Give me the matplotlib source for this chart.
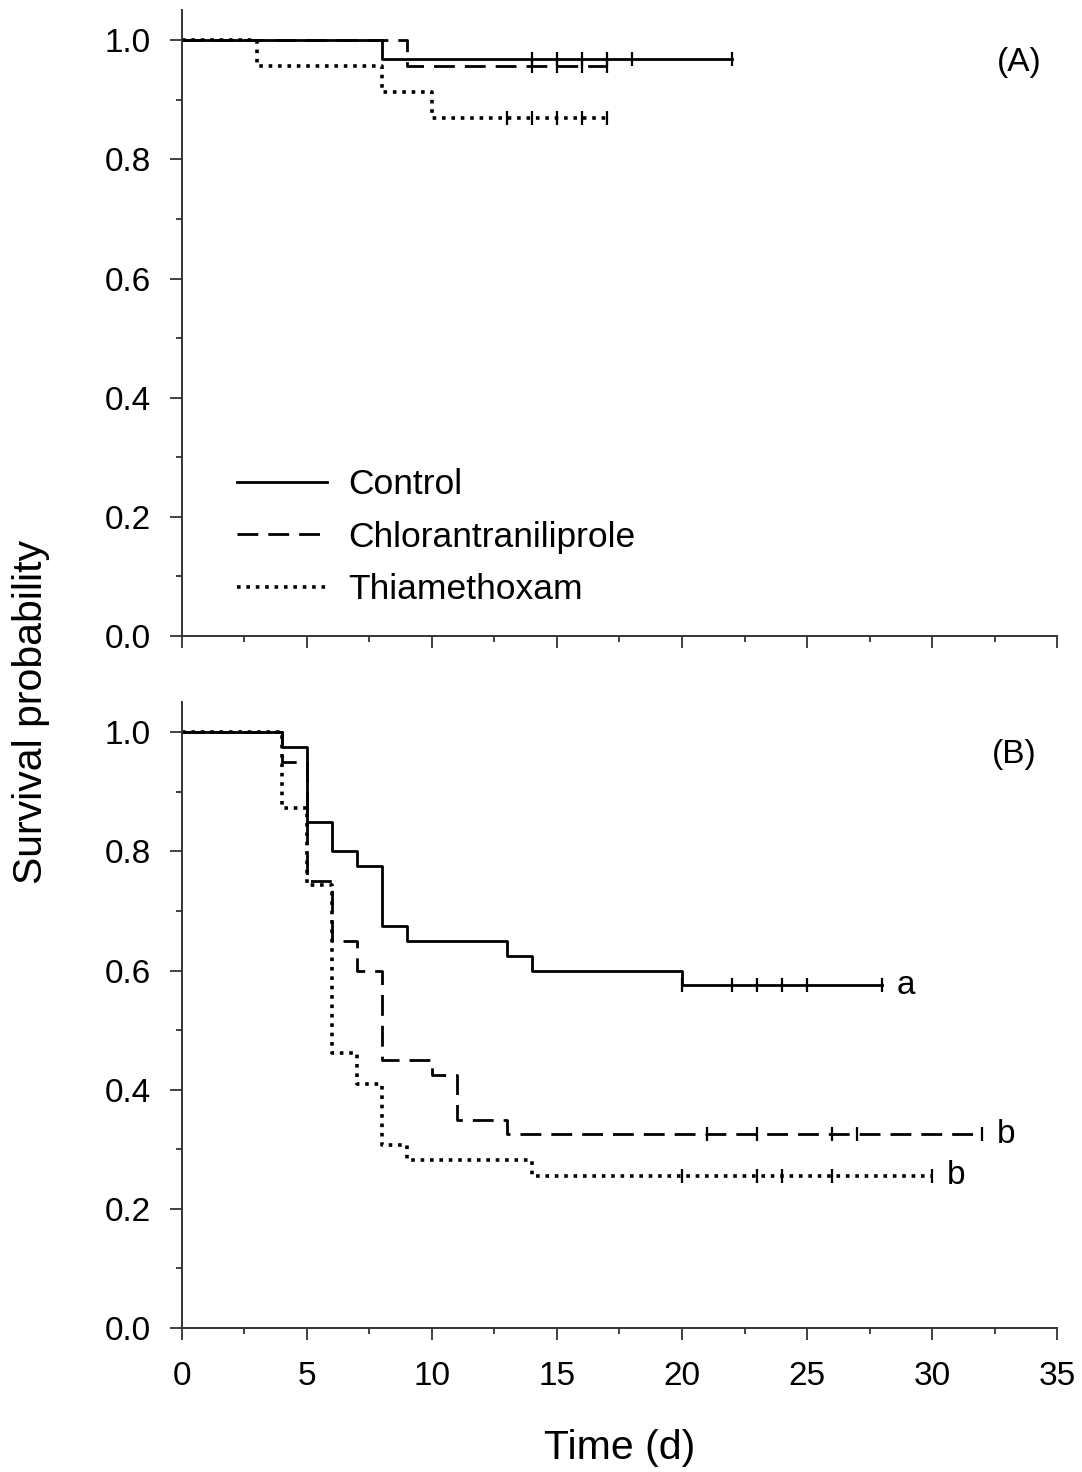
import numpy as np
import matplotlib
matplotlib.use("Agg")
import matplotlib.pyplot as plt
from matplotlib.ticker import MultipleLocator, FormatStrFormatter

plt.rcParams['font.family'] = ['Liberation Sans', 'DejaVu Sans']

# Kaplan-Meier step data, panel (A)
ctrl_a_t = [0, 8, 22]
ctrl_a_s = [1.0, 0.968, 0.968]
ctrl_a_cens = [14, 15, 16, 17, 18, 22]

chlor_a_t = [0, 9, 17]
chlor_a_s = [1.0, 0.957, 0.957]
chlor_a_cens = [14, 15, 16, 17]

thia_a_t = [0, 3, 8, 10, 17]
thia_a_s = [1.0, 0.957, 0.913, 0.870, 0.870]
thia_a_cens = [13, 14, 15, 16, 17]

# panel (B)
ctrl_b_t = [0, 4, 5, 6, 7, 8, 9, 13, 14, 20, 28]
ctrl_b_s = [1.0, 0.975, 0.85, 0.80, 0.775, 0.675, 0.65, 0.625, 0.60, 0.575, 0.575]
ctrl_b_cens = [20, 22, 23, 24, 25, 28]

chlor_b_t = [0, 4, 5, 6, 7, 8, 10, 11, 13, 32]
chlor_b_s = [1.0, 0.95, 0.75, 0.65, 0.60, 0.45, 0.425, 0.35, 0.325, 0.325]
chlor_b_cens = [21, 23, 26, 27, 32]

thia_b_t = [0, 4, 5, 6, 7, 8, 9, 14, 30]
thia_b_s = [1.0, 0.872, 0.744, 0.462, 0.41, 0.308, 0.282, 0.256, 0.256]
thia_b_cens = [20, 23, 24, 26, 30]

labels = ['Control', 'Chlorantraniliprole', 'Thiamethoxam']
letters_b = ['a', 'b', 'b']

styles = ['-', (0, (7.5, 3.6)), (0, (1, 1.6))]
widths = [2.0, 2.0, 2.6]
spine_col = '#333333'


def km_curve(ax, t, s, cens, ls, lw, label=None):
    ax.step(t, s, where='post', color='black', linestyle=ls, linewidth=lw, label=label)
    # censor marks sit on the step value at each censoring time
    idx = np.searchsorted(t, cens, side='right') - 1
    ax.plot(cens, np.array(s)[idx], linestyle='none', marker='|', color='black',
            markersize=10, markeredgewidth=1.6)


def style_axes(ax):
    ax.set_xlim(0, 35)
    ax.set_ylim(0, 1.05)
    ax.spines['top'].set_visible(False)
    ax.spines['right'].set_visible(False)
    for sp in ['left', 'bottom']:
        ax.spines[sp].set_color(spine_col)
        ax.spines[sp].set_linewidth(1.4)
    ax.xaxis.set_major_locator(MultipleLocator(5))
    ax.xaxis.set_minor_locator(MultipleLocator(2.5))
    ax.yaxis.set_major_locator(MultipleLocator(0.2))
    ax.yaxis.set_minor_locator(MultipleLocator(0.1))
    ax.yaxis.set_major_formatter(FormatStrFormatter('%.1f'))
    ax.tick_params(which='major', direction='out', length=8.6, width=1.3, color=spine_col,
                   labelsize=24, pad=14)
    ax.tick_params(which='minor', direction='out', length=4.3, width=1.3, color=spine_col)
    ax.tick_params(axis='x', which='major', pad=15)


fig = plt.figure(figsize=(10.82, 14.72), dpi=100)
ax_a = fig.add_axes([0.1682, 0.5679, 0.8087, 0.4250])
ax_b = fig.add_axes([0.1682, 0.0978, 0.8087, 0.4250])

series_a = [(ctrl_a_t, ctrl_a_s, ctrl_a_cens),
            (chlor_a_t, chlor_a_s, chlor_a_cens),
            (thia_a_t, thia_a_s, thia_a_cens)]
series_b = [(ctrl_b_t, ctrl_b_s, ctrl_b_cens),
            (chlor_b_t, chlor_b_s, chlor_b_cens),
            (thia_b_t, thia_b_s, thia_b_cens)]

for (t, s, c), ls, lw, lab in zip(series_a, styles, widths, labels):
    km_curve(ax_a, t, s, c, ls, lw, label=lab)

for (t, s, c), ls, lw, let in zip(series_b, styles, widths, letters_b):
    km_curve(ax_b, t, s, c, ls, lw)
    ax_b.text(t[-1] + 0.6, s[-1], let, fontsize=24, ha='left', va='center')

style_axes(ax_a)
style_axes(ax_b)
ax_a.tick_params(axis='x', which='both', labelbottom=False)

ax_a.text(33.5, 0.963, '(A)', fontsize=24, ha='center', va='center')
ax_b.text(33.3, 0.963, '(B)', fontsize=24, ha='center', va='center')

ax_a.legend(loc='upper left', bbox_to_anchor=(0.063, 0.268), frameon=False, fontsize=25.5,
            handlelength=2.54, handletextpad=0.6, labelspacing=0.55,
            borderpad=0, borderaxespad=0)

ax_b.set_xlabel('Time (d)', fontsize=29.5, labelpad=27)
fig.text(0.029, 0.516, 'Survival probability', fontsize=29.5, rotation=90,
         ha='center', va='center')

fig.savefig('out.png', dpi=100)
